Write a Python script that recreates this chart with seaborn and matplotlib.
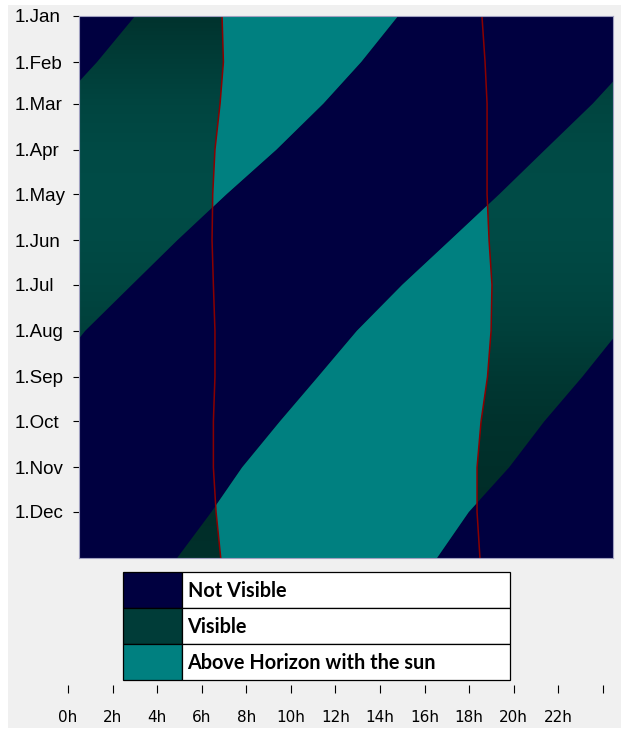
import numpy as np
import matplotlib
matplotlib.use('Agg')
import matplotlib.pyplot as plt
from matplotlib.patches import Polygon, Rectangle
from matplotlib.colors import LinearSegmentedColormap
import seaborn as sns

# day of year at the first of each month (last one = end of year)
month_days = [0, 31, 59, 90, 120, 151, 181, 212, 243, 273, 304, 334, 365]
month_labels = ['1.Jan', '1.Feb', '1.Mar', '1.Apr', '1.May', '1.Jun',
                '1.Jul', '1.Aug', '1.Sep', '1.Oct', '1.Nov', '1.Dec']

# object rise / set time in hours, unwrapped (negative = previous day side)
obj_rise = [2.52, 0.81, -0.91, -3.05, -5.11, -7.32, -9.47,
            -11.51, -13.26, -14.97, -16.67, -18.05, -19.59]
obj_set = [14.34, 12.68, 10.98, 8.87, 6.63, 4.42, 2.38,
           0.28, -1.38, -3.09, -4.67, -6.48, -7.91]

# sunrise / sunset in hours
sunrise = [6.43, 6.49, 6.34, 6.11, 6.01, 5.98, 6.04,
           6.11, 6.11, 6.04, 6.04, 6.16, 6.37]
sunset = [18.11, 18.25, 18.34, 18.34, 18.34, 18.43, 18.56,
          18.52, 18.36, 18.07, 17.89, 17.89, 18.02]

# green channel of the "Visible" shade over the year
visible_green = [51, 61, 69, 74, 76, 74, 70, 64, 56, 50, 47, 45, 48]

hour_ticks = list(range(0, 25, 2))
hour_labels = [f'{h}h' for h in range(0, 24, 2)] + ['']

legend_labels = ['Not Visible', 'Visible', 'Above Horizon with the sun']
legend_colors = ['#000040', '#003c38', '#008080']

NAVY = '#000040'
TEAL = '#008080'
SUNLINE = '#8b0000'

sns.set_style('ticks')
plt.rcParams['font.family'] = ['DejaVu Sans']

W, H = 621, 735
fig = plt.figure(figsize=(W / 100, H / 100), dpi=100, facecolor='white')
fig.add_artist(Rectangle((8 / W, 1 - 728 / H), (W - 8) / W, 723 / H,
                         transform=fig.transFigure, facecolor='#f0f0f0',
                         edgecolor='none', zorder=-10))


def px_axes(x0, y0, x1, y1):
    return fig.add_axes([x0 / W, 1 - y1 / H, (x1 - x0) / W, (y1 - y0) / H])


# main chart
ax = px_axes(79, 16, 613, 558)
ax.set_facecolor(NAVY)

vis_cmap = LinearSegmentedColormap.from_list(
    'visible',
    [(d / 365, (0, g / 255, (g - 5) / 255)) for d, g in zip(month_days, visible_green)])
grad = np.linspace(0, 1, 366)[:, None]

sun_poly = Polygon(list(zip(sunrise, month_days)) + list(zip(sunset, month_days))[::-1],
                   closed=True, transform=ax.transData)

for shift in (0, 24):
    verts = (list(zip(np.add(obj_rise, shift), month_days))
             + list(zip(np.add(obj_set, shift), month_days))[::-1])
    band = Polygon(verts, closed=True, transform=ax.transData)
    im = ax.imshow(grad, cmap=vis_cmap, vmin=0, vmax=1, aspect='auto',
                   extent=(0, 24, 365, 0), interpolation='bilinear')
    im.set_clip_path(band)

    teal = Polygon(verts, closed=True, facecolor=TEAL, edgecolor='none')
    ax.add_patch(teal)
    teal.set_clip_path(sun_poly)

sns.lineplot(x=sunrise, y=month_days, orient='y', color=SUNLINE, lw=1.1, ax=ax)
sns.lineplot(x=sunset, y=month_days, orient='y', color=SUNLINE, lw=1.1, ax=ax)

ax.set_xlim(0, 24)
ax.set_ylim(365, 0)
ax.set_xticks([])
ax.set_yticks(month_days[:12], month_labels)
ax.tick_params(axis='y', length=4.5, width=0.8, color='black',
               labelcolor='black', labelsize=13.5, pad=41.5)
for t in ax.get_yticklabels():
    t.set_horizontalalignment('left')
    t.set_family(['Liberation Sans', 'DejaVu Sans'])
for s in ax.spines.values():
    s.set_color('#a0a0c0')
    s.set_linewidth(0.8)

# legend table
lax = px_axes(123, 572, 510, 680)
lax.set_xlim(0, 387)
lax.set_ylim(3, 0)
lax.axis('off')
for i, (lab, col) in enumerate(zip(legend_labels, legend_colors)):
    lax.add_patch(Rectangle((0, i), 59, 1, facecolor=col, edgecolor='black',
                            lw=0.9, clip_on=False))
    lax.add_patch(Rectangle((59, i), 328, 1, facecolor='white', edgecolor='black',
                            lw=0.9, clip_on=False))
    lax.text(64.5, i + 0.53, lab, va='center', ha='left', fontsize=14.3,
             fontweight='bold', family=['Lato', 'DejaVu Sans'], color='black')

# hour scale
tax = px_axes(68, 684, 602.8, 685)
tax.set_facecolor('none')
tax.set_xlim(0, 24)
tax.set_yticks([])
tax.set_xticks(hour_ticks, hour_labels)
tax.tick_params(axis='x', length=6, width=0.8, color='black',
                labelcolor='black', labelsize=11, pad=12)
for t in tax.get_xticklabels():
    t.set_family(['Liberation Sans Narrow', 'DejaVu Sans'])
for s in tax.spines.values():
    s.set_visible(False)

fig.savefig('out.png', dpi=100, facecolor=fig.get_facecolor())
